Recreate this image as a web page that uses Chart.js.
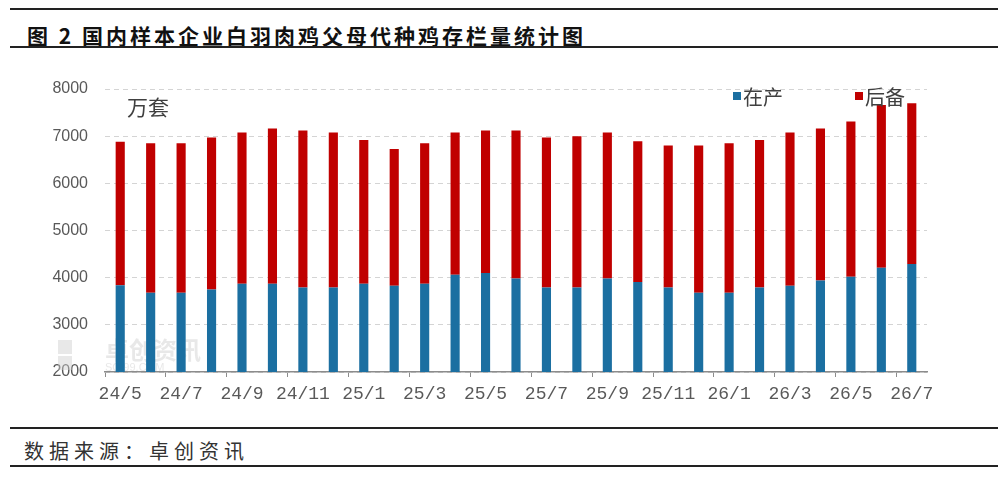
<!DOCTYPE html>
<html>
<head>
<meta charset="utf-8">
<script src="https://cdn.jsdelivr.net/npm/chart.js@4"></script>
<style>
  html, body { margin: 0; padding: 0; background: #fff; }
  body { width: 1008px; height: 480px; position: relative; overflow: hidden; font-family: "Noto Sans CJK SC", sans-serif; }
  .rule { position: absolute; left: 10px; width: 988px; background: #222; }
  #title { position: absolute; left: 27px; top: 20px; font-size: 21px; font-weight: bold; letter-spacing: 3px; color: #111; line-height: 30px; white-space: nowrap; }
  #source { position: absolute; left: 24px; top: 437px; font-size: 20px; letter-spacing: 5px; color: #333; line-height: 28px; white-space: nowrap; }
  #wrap { position: absolute; left: 0; top: 60px; width: 1008px; height: 352px; }
</style>
</head>
<body>
<div class="rule" style="top:8px;height:2px"></div>
<div id="title">图 2 国内样本企业白羽肉鸡父母代种鸡存栏量统计图</div>
<div class="rule" style="top:46px;height:2px"></div>
<div id="wrap"><canvas id="chart"></canvas></div>
<div class="rule" style="top:427px;height:2px"></div>
<div id="source">数据来源：卓创资讯</div>
<div class="rule" style="top:465px;height:2px"></div>

<script>
// Chart data
const months = ['24/5','24/6','24/7','24/8','24/9','24/10','24/11','24/12','25/1','25/2','25/3','25/4','25/5','25/6',
  '25/7','25/8','25/9','25/10','25/11','25/12','26/1','26/2','26/3','26/4','26/5','26/6','26/7'];
const inProduction = [3840,3680,3680,3750,3870,3870,3790,3790,3870,3830,3870,4060,4100,3980,
  3790,3790,3980,3910,3790,3680,3680,3790,3830,3940,4020,4210,4290];
const reserve = [3040,3170,3170,3220,3210,3290,3330,3290,3050,2900,2980,3020,3020,3140,
  3180,3210,3100,2980,3010,3120,3170,3130,3250,3220,3290,3450,3410];
const yTicks = [2000,3000,4000,5000,6000,7000,8000];
const unitLabel = '万套';

const BLUE = '#1b6fa1';
const RED = '#c00000';

// Draw unit text, watermark and legend on the canvas
const extrasPlugin = {
  id: 'extras',
  beforeDatasetsDraw(chart) {
    const ctx = chart.ctx;
    const area = chart.chartArea;
    ctx.save();
    // faint watermark
    ctx.fillStyle = 'rgba(205,205,205,0.45)';
    ctx.fillRect(58, area.bottom - 32, 14, 14);
    ctx.fillRect(58, area.bottom - 16, 14, 14);
    ctx.font = 'bold 24px "Noto Sans CJK SC"';
    ctx.textBaseline = 'middle';
    ctx.fillText('卓创资讯', 105, area.bottom - 22);
    ctx.font = '11px "Liberation Sans"';
    ctx.fillText('SCI99.COM', 105, area.bottom - 4);
    ctx.restore();
  },
  afterDatasetsDraw(chart) {
    const ctx = chart.ctx;
    const area = chart.chartArea;
    ctx.save();
    ctx.fillStyle = '#404040';
    ctx.font = '21px "Noto Sans CJK SC"';
    ctx.textBaseline = 'middle';
    ctx.textAlign = 'left';
    ctx.fillText(unitLabel, 127, area.top + 18);

    // legend
    const items = chart.data.datasets;
    const xs = [733, 855];
    ctx.font = '20px "Noto Sans CJK SC"';
    items.forEach((ds, i) => {
      ctx.fillStyle = ds.backgroundColor;
      ctx.fillRect(xs[i], area.top + 3, 8, 8);
      ctx.fillStyle = '#404040';
      ctx.fillText(ds.label, xs[i] + 10, area.top + 8);
    });
    ctx.restore();
  }
};

new Chart(document.getElementById('chart'), {
  type: 'bar',
  data: {
    labels: months,
    datasets: [
      { label: '在产', data: inProduction, backgroundColor: BLUE, barPercentage: 0.3, categoryPercentage: 1 },
      { label: '后备', data: reserve, backgroundColor: RED, barPercentage: 0.3, categoryPercentage: 1 }
    ]
  },
  plugins: [extrasPlugin],
  options: {
    responsive: true,
    maintainAspectRatio: false,
    animation: false,
    layout: { padding: { top: 29, right: 81, left: 0, bottom: 0 } },
    plugins: {
      legend: { display: false },
      tooltip: { enabled: false }
    },
    scales: {
      x: {
        stacked: true,
        offset: true,
        afterFit(scale) { scale.height = 40; },
        border: { display: true, color: '#8c8c8c', width: 1.5 },
        grid: {
          offset: true,
          drawOnChartArea: false,
          drawTicks: true,
          tickLength: 5,
          color: (c) => (c.index % 2 === 0 ? '#8c8c8c' : 'rgba(0,0,0,0)')
        },
        ticks: {
          autoSkip: false,
          maxRotation: 0,
          padding: 6,
          color: '#595959',
          font: { family: 'Liberation Mono', size: 18 },
          callback: function(value, index) {
            return index % 2 === 0 ? this.getLabelForValue(value) : '';
          }
        }
      },
      y: {
        stacked: true,
        min: yTicks[0],
        max: yTicks[yTicks.length - 1],
        afterFit(scale) { scale.width = 105; },
        afterBuildTicks(scale) { scale.ticks = yTicks.map(v => ({ value: v })); },
        border: { display: false, dash: [5, 4] },
        grid: { color: '#d4d4d4', drawTicks: false, lineWidth: 1 },
        ticks: {
          padding: 17,
          color: '#595959',
          font: { family: 'Liberation Sans', size: 16 },
          callback: (v) => String(v)
        }
      }
    }
  }
});
</script>
</body>
</html>
